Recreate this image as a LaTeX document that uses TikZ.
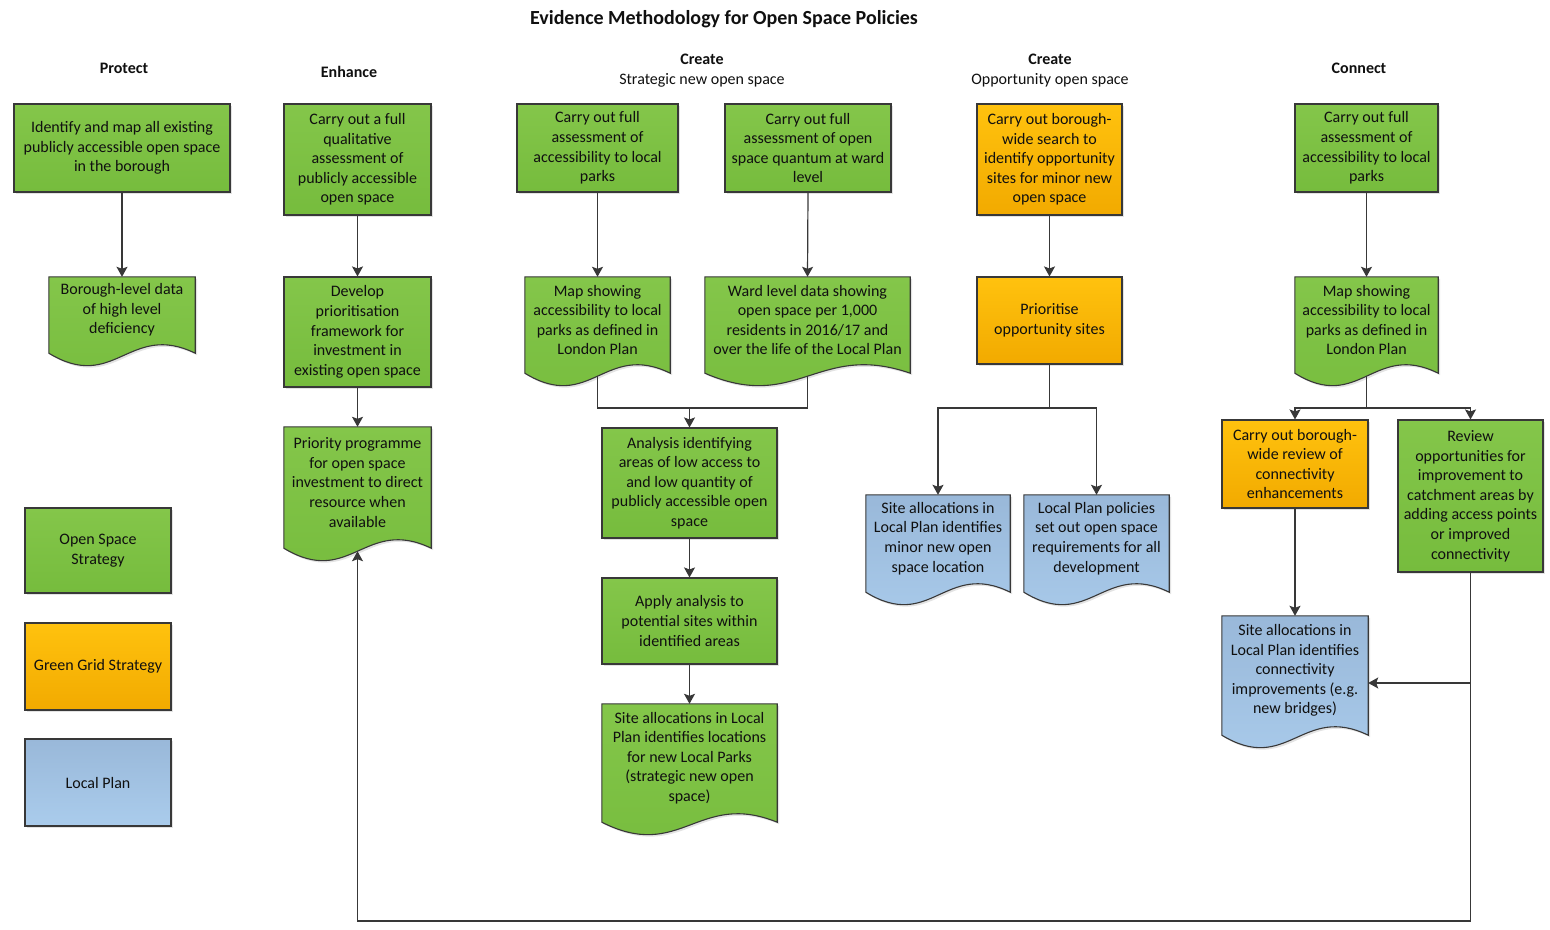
\documentclass[tikz,border=0pt]{standalone}
\usepackage{fontspec}
\setmainfont{Carlito}
\usetikzlibrary{arrows.meta,calc,backgrounds,shadows}
\pgfdeclarelayer{bottom}
\pgfsetlayers{bottom,background,main}

\definecolor{grnT}{HTML}{84C64A}
\definecolor{grnB}{HTML}{76BC3D}
\definecolor{orgT}{HTML}{FFC20E}
\definecolor{orgB}{HTML}{F2AA00}
\definecolor{bluT}{HTML}{99B8D9}
\definecolor{bluB}{HTML}{AACCEC}
\definecolor{edge}{HTML}{383838}
\definecolor{ink}{HTML}{101010}

\tikzset{
  base/.style={align=center, font=\fontsize{16}{19.6}\selectfont, text=ink, inner sep=0pt},
  shad/.style={drop shadow={opacity=0.22, shadow xshift=2pt, shadow yshift=-2pt}},
  rbox/.style={base, draw=edge, line width=1.1pt, shad},
  docn/.style={base},
  grn/.style={top color=grnT, bottom color=grnB},
  org/.style={top color=orgT, bottom color=orgB},
  blu/.style={top color=bluT, bottom color=bluB},
  docshape/.style={draw=edge, line width=1.1pt, shad},
  hdr/.style={align=center, font=\fontsize{16}{20}\selectfont, text=ink, inner sep=0pt},
  ttl/.style={font=\bfseries\fontsize{20}{24}\selectfont, text=ink, inner sep=0pt},
  conn/.style={draw=edge, line width=1.2pt},
  arr/.style={conn, -{Stealth[length=10pt, width=11pt, inset=2pt]}},
}

\newcommand\docpath[2]{%
  \path[docshape,#2] (#1.north west) -- (#1.north east) -- ($(#1.south east)+(0,10)$)
    .. controls ($(#1.south west)!0.55!(#1.south east)+(0,-22)$) and ($(#1.south west)!0.45!(#1.south east)+(0,50)$)
    .. ($(#1.south west)+(0,10)$) -- cycle;}

\begin{document}
\begin{tikzpicture}[x=1pt,y=-1pt]
\begin{pgfonlayer}{bottom}
\fill[white] (0,0) rectangle (1550,929);
\end{pgfonlayer}
\useasboundingbox (0,0) rectangle (1550,929);

% title and headers
\node[ttl] (title) at (724,19) {Evidence Methodology for Open Space Policies};
\node[hdr, font=\bfseries\fontsize{16}{20}\selectfont] (hP) at (124,68) {Protect};
\node[hdr, font=\bfseries\fontsize{16}{20}\selectfont] (hE) at (349,72) {Enhance};
\node[hdr] (hC1) at (702,71) {\textbf{Create}\\Strategic new open space};
\node[hdr] (hC2) at (1050,71) {\textbf{Create}\\Opportunity open space};
\node[hdr, font=\bfseries\fontsize{16}{20}\selectfont] (hK) at (1359,68) {Connect};

% Protect
\node[rbox,grn,minimum width=216pt,minimum height=88pt] (P1) at (122,148)
  {Identify and map all existing\\publicly accessible open space\\in the borough};
\node[docn,minimum width=146pt,minimum height=66pt] (P2) at (122,310)
  {Borough-level data\\of high level\\deficiency};

% Enhance
\node[rbox,grn,minimum width=147pt,minimum height=111pt] (E1) at (357.5,159.5)
  {Carry out a full\\qualitative\\assessment of\\publicly accessible\\open space};
\node[rbox,grn,minimum width=147pt,minimum height=110pt] (E2) at (357.5,332)
  {Develop\\prioritisation\\framework for\\investment in\\existing open space};
\node[docn,minimum width=147pt,minimum height=111pt] (E3) at (357.5,482.5)
  {Priority programme\\for open space\\investment to direct\\resource when\\available};

% Create - strategic
\node[rbox,grn,minimum width=161pt,minimum height=88pt] (C1) at (597.5,148)
  {Carry out full\\assessment of\\accessibility to local\\parks};
\node[rbox,grn,minimum width=166pt,minimum height=88pt] (C2) at (808,148)
  {Carry out full\\assessment of open\\space quantum at ward\\level};
\node[docn,minimum width=145pt,minimum height=86pt] (C3) at (597.5,320)
  {Map showing\\accessibility to local\\parks as defined in\\London Plan};
\node[docn,minimum width=205pt,minimum height=86pt] (C4) at (807.5,320)
  {Ward level data showing\\open space per 1,000\\residents in 2016/17 and\\over the life of the Local Plan};
\node[rbox,grn,minimum width=175pt,minimum height=110pt] (C5) at (689.5,483)
  {Analysis identifying\\areas of low access to\\and low quantity of\\publicly accessible open\\space};
\node[rbox,grn,minimum width=175pt,minimum height=86pt] (C6) at (689.5,621)
  {Apply analysis to\\potential sites within\\identified areas};
\node[docn,minimum width=175pt,minimum height=108pt] (C7) at (689.5,758)
  {Site allocations in Local\\Plan identifies locations\\for new Local Parks\\(strategic new open\\space)};

% Create - opportunity
\node[rbox,org,minimum width=145pt,minimum height=111pt] (O1) at (1049.5,159.5)
  {Carry out borough-\\wide search to\\identify opportunity\\sites for minor new\\open space};
\node[rbox,org,minimum width=145pt,minimum height=87pt] (O2) at (1049.5,320.5)
  {Prioritise\\opportunity sites};
\node[docn,minimum width=144pt,minimum height=87pt] (O3) at (938,538.5)
  {Site allocations in\\Local Plan identifies\\minor new open\\space location};
\node[docn,minimum width=145pt,minimum height=87pt] (O4) at (1096.5,538.5)
  {Local Plan policies\\set out open space\\requirements for all\\development};

% Connect
\node[rbox,grn,minimum width=143pt,minimum height=88pt] (K1) at (1366.5,148)
  {Carry out full\\assessment of\\accessibility to local\\parks};
\node[docn,minimum width=143pt,minimum height=86pt] (K2) at (1366.5,320)
  {Map showing\\accessibility to local\\parks as defined in\\London Plan};
\node[rbox,org,minimum width=146pt,minimum height=88pt] (K3) at (1295,464)
  {Carry out borough-\\wide review of\\connectivity\\enhancements};
\node[rbox,grn,minimum width=145pt,minimum height=152pt] (K4) at (1470.5,496)
  {Review\\opportunities for\\improvement to\\catchment areas by\\adding access points\\or improved\\connectivity};
\node[docn,minimum width=146pt,minimum height=109pt] (K5) at (1295,670.5)
  {Site allocations in\\Local Plan identifies\\connectivity\\improvements (e.g.\\new bridges)};

% Legend
\node[rbox,grn,minimum width=146pt,minimum height=85pt] (L1) at (98,550.5) {Open Space\\Strategy};
\node[rbox,org,minimum width=146pt,minimum height=87pt] (L2) at (98,666.5) {Green Grid Strategy};
\node[rbox,blu,minimum width=146pt,minimum height=87pt] (L3) at (98,782.5) {Local Plan};

% document shapes behind their texts
\begin{scope}[on background layer]
  \docpath{P2}{grn}
  \docpath{E3}{grn}
  \docpath{C3}{grn}
  \docpath{C4}{grn}
  \docpath{C7}{grn}
  \docpath{K2}{grn}
  \docpath{O3}{blu}
  \docpath{O4}{blu}
  \docpath{K5}{blu}
\end{scope}

% helper coordinates
\coordinate (C3w) at ($(C3.south)+(0,13)$);
\coordinate (C4w) at ($(C4.south)+(0,13)$);
\coordinate (K2w) at ($(K2.south)+(0,13)$);
\coordinate (E3w) at ($(E3.south)+(0,13)$);
\coordinate (mC) at (689.5,408);
\coordinate (mO) at (1049.5,408);
\coordinate (mK) at (1366.5,408);
\coordinate (kj) at (1470.5,683);
\coordinate (loopR) at (1470.5,921);

% connectors
\draw[arr] (P1) -- (P2.north);
\draw[arr] (E1) -- (E2);
\draw[arr] (E2) -- (E3.north);
\draw[arr] (C1) -- (C3.north);
\draw[arr] (C2.south) -- (C4.north);
\draw[conn] (C3w) |- (mC) -| (C4w);
\draw[arr] (mC) -- (C5.north);
\draw[arr] (C5) -- (C6);
\draw[arr] (C6) -- (C7.north);
\draw[arr] (O1) -- (O2);
\draw[conn] (O2.south) -- (mO);
\draw[arr] (mO) -| (O3.north);
\draw[arr] (mO) -| (O4.north);
\draw[arr] (K1) -- (K2.north);
\draw[conn] (K2w) -- (mK);
\draw[arr] (mK) -| (K3.north);
\draw[arr] (mK) -| (K4.north);
\draw[arr] (K3) -- (K5.north);
\draw[arr] (kj) -- (kj -| K5.east);
\draw[arr] (K4.south) -- (loopR) -| (E3w);
\end{tikzpicture}
\end{document}
